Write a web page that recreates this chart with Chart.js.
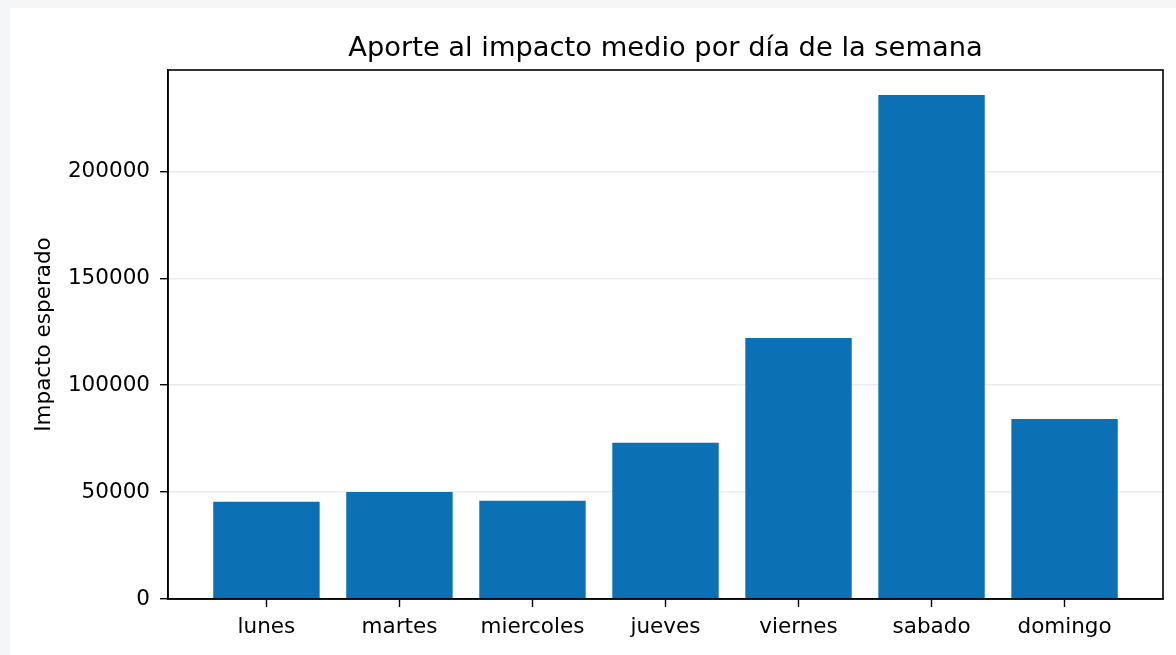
<!DOCTYPE html>
<html lang="es">
<head>
    <meta charset="UTF-8">
    <title>Aporte al impacto medio por día de la semana</title>
    <style>
        body {
            margin: 0;
            background: #f4f6f7;
            font-family: "DejaVu Sans", sans-serif;
        }
        .panel {
            position: absolute;
            left: 10px;
            top: 8px;
            width: 1166px;
            height: 647px;
            background: #ffffff;
        }
    </style>
</head>
<body>
<div class="panel">
    <canvas id="chart"></canvas>
</div>

<script src="https://cdn.jsdelivr.net/npm/chart.js"></script>
<script>
    // datos
    const dias = ['lunes', 'martes', 'miercoles', 'jueves', 'viernes', 'sabado', 'domingo'];
    const impacto = [45500, 50000, 46000, 73100, 122100, 235700, 84200];
    const yTicks = [0, 50000, 100000, 150000, 200000];
    const titulo = 'Aporte al impacto medio por día de la semana';

    const font = { family: '"DejaVu Sans", sans-serif', size: 21.5 };

    // marco negro alrededor del area del grafico + titulo centrado sobre el area
    const frame = {
        id: 'frame',
        afterDraw(chart) {
            const a = chart.chartArea;
            const ctx = chart.ctx;
            ctx.save();
            ctx.strokeStyle = '#000';
            ctx.lineWidth = 1.6;
            ctx.strokeRect(a.left, a.top, a.right - a.left, a.bottom - a.top);
            ctx.fillStyle = '#000';
            ctx.font = '27.3px "DejaVu Sans", sans-serif';
            ctx.textAlign = 'center';
            ctx.textBaseline = 'middle';
            ctx.fillText(titulo, (a.left + a.right) / 2, 41);
            ctx.restore();
        }
    };

    const ctx = document.getElementById('chart').getContext('2d');
    new Chart(ctx, {
        type: 'bar',
        data: {
            datasets: [{
                data: dias.map((d, i) => ({ x: i, y: impacto[i] })),
                backgroundColor: '#0c71b4',
                borderWidth: 0,
                categoryPercentage: 1,
                barPercentage: 0.8
            }]
        },
        options: {
            responsive: true,
            maintainAspectRatio: false,
            animation: false,
            layout: { padding: { left: 0, right: 13, top: 62, bottom: 0 } },
            plugins: {
                legend: { display: false },
                tooltip: { enabled: false },
                title: { display: false }
            },
            scales: {
                x: {
                    type: 'linear',
                    min: -0.74,
                    max: 6.74,
                    offset: false,
                    grid: { offset: false, drawOnChartArea: false, drawTicks: true, tickLength: 8, tickColor: '#000', tickWidth: 1.4 },
                    border: { display: true, color: '#000', width: 1.6 },
                    afterBuildTicks: s => { s.ticks = dias.map((d, i) => ({ value: i })); },
                    afterFit: s => { s.height = 56; },
                    ticks: {
                        color: '#000',
                        font: font,
                        padding: 8,
                        maxRotation: 0,
                        autoSkip: false,
                        callback: v => dias[v]
                    }
                },
                y: {
                    min: 0,
                    max: 247400,
                    z: 1,
                    grid: { color: 'rgba(0,0,0,0.08)', lineWidth: 1.4, tickLength: 8, tickColor: '#000', tickWidth: 1.4 },
                    border: { display: true, color: '#000', width: 1.6 },
                    afterBuildTicks: s => { s.ticks = yTicks.map(v => ({ value: v })); },
                    afterFit: s => { s.width = 158; },
                    ticks: {
                        color: '#000',
                        font: font,
                        padding: 10,
                        callback: v => String(v)
                    },
                    title: {
                        display: true,
                        text: 'Impacto esperado',
                        color: '#000',
                        font: font,
                        padding: { top: 22, bottom: 0 }
                    }
                }
            }
        },
        plugins: [frame]
    });
</script>
</body>
</html>
